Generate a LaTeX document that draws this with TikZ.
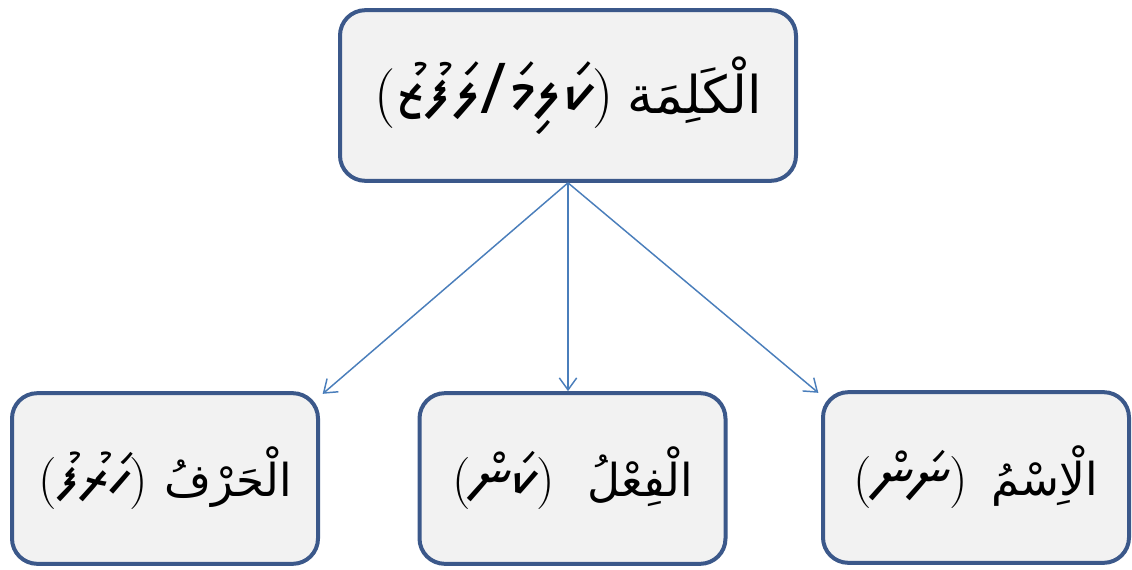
\documentclass[tikz,border=0pt]{standalone}
\usepackage{fontspec}
\usetikzlibrary{arrows.meta}
\TeXXeTstate=1
\newfontfamily\arabicfont[Script=Arabic]{DejaVu Sans}
\IfFontExistsTF{Noto Sans Thaana}
    {\newfontfamily\thaanafont[Script=Thaana,Scale=1.35]{Noto Sans Thaana}}
    {\IfFontExistsTF{MV Boli}
        {\newfontfamily\thaanafont[Script=Thaana,Scale=1.35]{MV Boli}}
        {\newfontfamily\thaanafont[Script=Thaana,Scale=1.35]{DejaVu Sans}}}
\definecolor{boxline}{RGB}{59,88,138}
\definecolor{arrowline}{RGB}{74,126,187}
\definecolor{boxfill}{RGB}{242,242,242}
% Thaana gloss in brackets, then the Arabic word (set left to right, each run right to left)
\newcommand\wordlabel[3][6pt]{\scalebox{1.15}{(}\beginR{\thaanafont #3}\endR\scalebox{1.15}{)}\hspace{#1}\beginR{\arabicfont #2}\endR}
\begin{document}
\begin{tikzpicture}[x=0.75pt,y=-0.75pt,
    wordbox/.style={draw=boxline, fill=boxfill, line width=3pt, rounded corners=19pt,
        minimum height=128pt, minimum width=229.5pt, inner sep=0pt,
        font=\fontsize{34}{40}\selectfont},
    branch/.style={draw=arrowline, line width=1.1pt, -{Straight Barb[length=9pt,width=13pt]}}]
    \useasboundingbox (0,0) rectangle (1132,569);
    % top word
    \node[wordbox, minimum width=342pt, font=\fontsize{39}{44}\selectfont] (kalima) at (568,95.5)
        {\wordlabel[10pt]{الْكَلِمَة}{ކަލިމަ/ލަފުޒު}};
    % the three kinds
    \node[wordbox] (harf) at (165,478.5) {\wordlabel[12pt]{الْحَرْفُ}{ހަރުފު}};
    \node[wordbox] (fil) at (572.5,478.5) {\wordlabel[24pt]{الْفِعْلُ}{ކަން}};
    \node[wordbox] (ism) at (976,477.5) {\wordlabel[18pt]{الْاِسْمُ}{ނަން}};
    \draw[branch] (kalima.south) -- ([xshift=2pt,yshift=-2pt]harf.north east);
    \draw[branch] (kalima.south) -- (kalima.south |- fil.north);
    \draw[branch] (kalima.south) -- ([xshift=-2pt,yshift=-2pt]ism.north west);
\end{tikzpicture}
\end{document}
